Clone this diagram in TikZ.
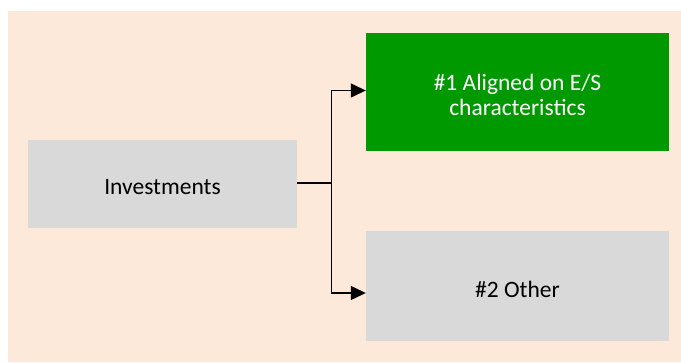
\documentclass[tikz,border=0pt]{standalone}
\usepackage{fontspec}
\setmainfont{Carlito}
\usetikzlibrary{arrows.meta}
\definecolor{peach}{HTML}{FDE9D9}
\definecolor{boxgray}{HTML}{D9D9D9}
\definecolor{boxgreen}{HTML}{009900}
\tikzset{
  box/.style={rectangle, inner sep=0pt},
  lbl/.style={inner sep=0pt, align=center, font=\fontsize{23.5}{25.5}\selectfont, yshift=-3pt},
  conn/.style={line width=1.3pt, -{Triangle[length=15pt,width=14pt]}},
}
\begin{document}
\begin{tikzpicture}[x=1pt,y=-1pt]
\useasboundingbox (0,0) rectangle (681,362);
\fill[white] (0,0) rectangle (681,362);
\fill[peach] (8,11) rectangle (681,362);
\node[box, fill=boxgray, minimum width=269pt, minimum height=88pt] (inv) at (162.5,184) {};
\node[box, fill=boxgreen, minimum width=303pt, minimum height=118pt] (al) at (517.5,92) {};
\node[box, fill=boxgray, minimum width=303pt, minimum height=110pt] (ot) at (517.5,286) {};
\node[lbl] (invt) at (inv.center) {Investments};
\node[lbl, text=white] (alt) at (al.center) {\#1 Aligned on E/S\\characteristics};
\node[lbl] (ott) at (ot.center) {\#2 Other};
\coordinate (j) at (331.5,183);
\draw[line width=2.2pt] (inv.east |- j) -- (j);
\draw[conn] (j) |- (al.west |- 0,90.5);
\draw[conn] (j) |- (ot.west |- 0,293);
\end{tikzpicture}
\end{document}
